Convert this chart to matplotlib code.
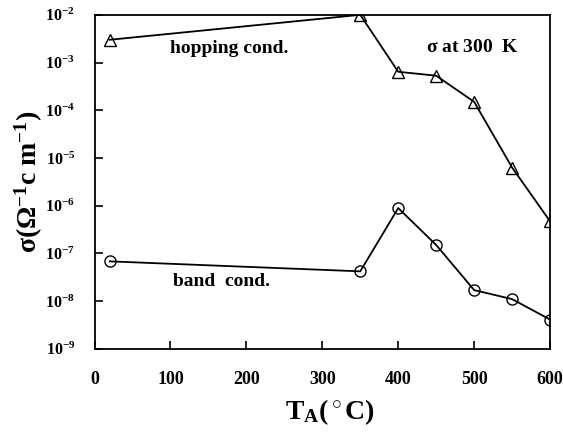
import numpy as np
import matplotlib
matplotlib.use("Agg")
import matplotlib.pyplot as plt
from matplotlib.ticker import FixedLocator, FuncFormatter, NullLocator

plt.rcParams['font.family'] = 'Liberation Serif'
plt.rcParams['font.weight'] = 'bold'
plt.rcParams['mathtext.fontset'] = 'custom'
plt.rcParams['mathtext.rm'] = 'Liberation Serif:bold'
plt.rcParams['mathtext.bf'] = 'Liberation Serif:bold'
plt.rcParams['mathtext.it'] = 'Liberation Serif:bold'

# annealing temperature (C)
t_anneal = [20, 350, 400, 450, 500, 550, 600]

# conductivity at 300 K
sigma_hopping = [3.0e-3, 1.0e-2, 6.4e-4, 5.3e-4, 1.5e-4, 6.3e-6, 4.7e-7]
sigma_band = [6.8e-8, 4.2e-8, 8.9e-7, 1.5e-7, 1.7e-8, 1.1e-8, 4.1e-9]

x_ticks = [0, 100, 200, 300, 400, 500, 600]
y_exps = [-9, -8, -7, -6, -5, -4, -3, -2]

fig = plt.figure(figsize=(5.63, 4.36), dpi=100)
ax = fig.add_axes([0.168, 0.2, 0.809, 0.766])

ax.plot(t_anneal, sigma_hopping, color='black', lw=1.3, marker='^',
        markersize=8, markerfacecolor='none', markeredgecolor='black', mew=1.0)
ax.plot(t_anneal, sigma_band, color='black', lw=1.3, marker='o',
        markersize=8, markerfacecolor='none', markeredgecolor='black', mew=1.0)

ax.set_yscale('log')
ax.set_xlim(0, 600)
ax.set_ylim(1e-9, 1e-2)

ax.xaxis.set_major_locator(FixedLocator(x_ticks))
ax.yaxis.set_major_locator(FixedLocator([10.0 ** e for e in y_exps]))
ax.yaxis.set_minor_locator(NullLocator())
ax.yaxis.set_major_formatter(FuncFormatter(
    lambda v, p: r'$\mathbf{10^{%d}}$' % int(round(np.log10(v)))))

ax.tick_params(axis='both', direction='in', length=6, width=1.2)
ax.tick_params(axis='x', pad=16, labelsize=13)
ax.tick_params(axis='y', pad=14, labelsize=11.5)
for lbl in ax.get_xticklabels():
    lbl.set_fontweight('bold')

for s in ax.spines.values():
    s.set_linewidth(1.3)

ax.set_xlabel(r'T$_\mathbf{A}$($^\circ$C)', fontsize=20, fontweight='bold')
ax.set_ylabel(r'$\sigma$($\Omega^{-1}$c m$^{-1}$)', fontsize=20, fontweight='bold')
ax.xaxis.set_label_coords(0.516, -0.145)
ax.yaxis.set_label_coords(-0.108, 0.5)

ax.text(99, 2.0e-3, 'hopping cond.', fontsize=14, fontweight='bold', va='center')
ax.text(437, 2.1e-3, r'$\sigma$ at 300  K', fontsize=14, fontweight='bold', va='center')
ax.text(103, 2.6e-8, 'band  cond.', fontsize=14, fontweight='bold', va='center')

fig.savefig('out.png', dpi=100)
